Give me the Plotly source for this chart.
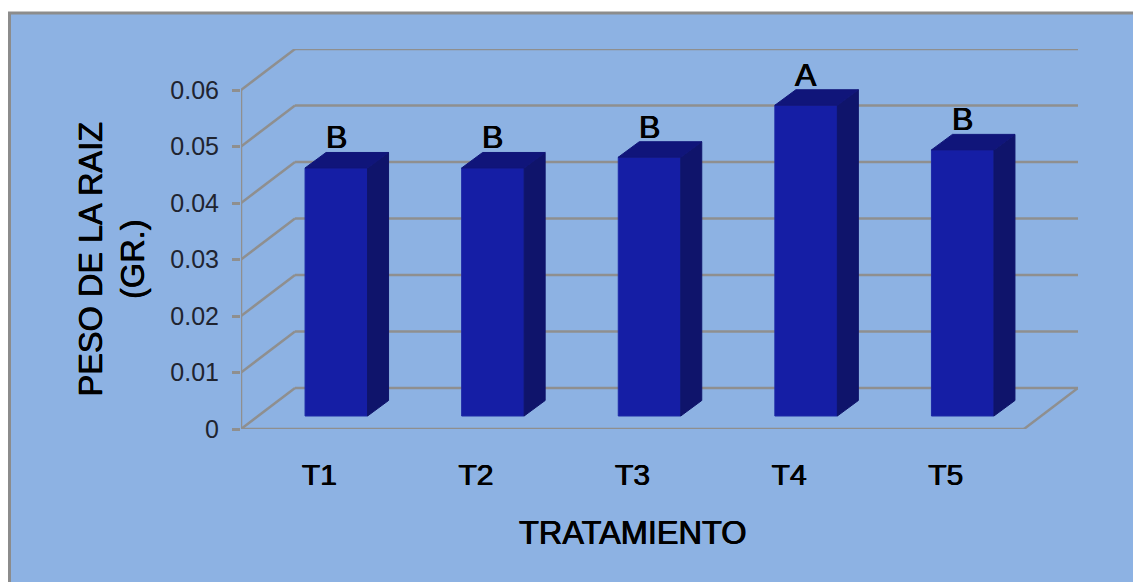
import plotly.graph_objects as go

categories = ["T1", "T2", "T3", "T4", "T5"]
values = [0.0439, 0.0439, 0.0458, 0.0550, 0.0471]
letters = ["B", "B", "B", "A", "B"]
y_ticks = [0, 0.01, 0.02, 0.03, 0.04, 0.05, 0.06]
y_tick_labels = ["0", "0.01", "0.02", "0.03", "0.04", "0.05", "0.06"]

W, H = 1133, 582
L, R, T, B = 241, 1078, 49, 429
PX_X = 156.6
PX_Y = 5650.0
BG = "#8DB2E3"
GRID = "#8F8F8F"
FRONT = "#151EA5"
SIDE = "#0F146B"
TOP = "#10157A"
FONT = "Liberation Sans"
HEAVY = "0.5px 0 0 #000000, -0.4px 0 0 #000000"

xmin = -0.5
xmax = xmin + (R - L) / PX_X
ymax = (B - T) / PX_Y
wall_dx, wall_dy = 54 / PX_X, 41 / PX_Y
bar_off_x, bar_off_y = 17 / PX_X, 13 / PX_Y
bar_dx, bar_dy = 21 / PX_X, 15.5 / PX_Y
bar_w = 62.5 / PX_X
floor_right = xmin + 5

idx = list(range(len(categories)))
fig = go.Figure()

# Front faces
fig.add_trace(go.Bar(
    x=[i + bar_off_x for i in idx], y=values, base=bar_off_y, width=bar_w,
    marker=dict(color=FRONT, line=dict(color="#1C28A6", width=1)),
))

# Side and top faces derived from the values
for i, v in zip(idx, values):
    x0 = i + bar_off_x - bar_w / 2
    x1 = i + bar_off_x + bar_w / 2
    y0 = bar_off_y
    y1 = bar_off_y + v
    fig.add_trace(go.Scatter(
        x=[x1, x1 + bar_dx, x1 + bar_dx, x1, x1],
        y=[y0, y0 + bar_dy, y1 + bar_dy, y1, y0],
        mode="lines", fill="toself", fillcolor=SIDE,
        line=dict(color=SIDE, width=1), hoverinfo="skip",
    ))
    fig.add_trace(go.Scatter(
        x=[x0, x0 + bar_dx, x1 + bar_dx, x1, x0],
        y=[y1, y1 + bar_dy, y1 + bar_dy, y1, y1],
        mode="lines", fill="toself", fillcolor=TOP,
        line=dict(color=TOP, width=1), hoverinfo="skip",
    ))

shapes = [
    # Chart-area panel
    dict(type="rect", xref="paper", yref="paper", layer="below",
         x0=(9.5 - L) / (R - L), x1=(W + 20 - L) / (R - L),
         y0=-(H + 20 - B) / (B - T), y1=1 + (T - 13) / (B - T),
         fillcolor=BG, line=dict(color="#8C8C8C", width=3)),
]
line = dict(color=GRID, width=2.5)
for t in y_ticks:
    # Side-wall diagonal and back-wall line for each tick
    shapes.append(dict(type="line", layer="below", xref="x", yref="y", x0=xmin, y0=t,
                       x1=xmin + wall_dx, y1=t + wall_dy, line=line))
    shapes.append(dict(type="line", layer="below", xref="x", yref="y", x0=xmin + wall_dx, y0=t + wall_dy,
                       x1=xmax, y1=t + wall_dy, line=line))
shapes.append(dict(type="line", layer="below", xref="x", yref="y", x0=xmin, y0=0,
                   x1=xmin, y1=max(y_ticks), line=line))
shapes.append(dict(type="line", layer="below", xref="x", yref="y", x0=xmin, y0=0,
                   x1=floor_right, y1=0, line=line))
shapes.append(dict(type="line", layer="below", xref="x", yref="y", x0=floor_right, y0=0,
                   x1=xmax, y1=wall_dy, line=line))

annotations = [
    dict(x=i + bar_off_x, y=bar_off_y + v + bar_dy, text=s, showarrow=False,
         xref="x", yref="y", yanchor="bottom", yshift=-5,
         font=dict(family=FONT, size=32, color="#000000", shadow=HEAVY))
    for i, v, s in zip(idx, values, letters)
]
annotations += [
    dict(text="TRATAMIENTO", showarrow=False, xref="paper", yref="paper",
         x=(632.5 - L) / (R - L), y=-(533 - B) / (B - T),
         font=dict(family=FONT, size=32.5, color="#000000", shadow=HEAVY),
         xanchor="center", yanchor="middle"),
    dict(text="PESO DE LA RAIZ<br>(GR.)", showarrow=False, xref="paper", yref="paper",
         x=(111.5 - L) / (R - L), y=1 - (259 - T) / (B - T), textangle=-90,
         font=dict(family=FONT, size=32.5, color="#000000", shadow=HEAVY),
         xanchor="center", yanchor="middle", align="center"),
]

fig.update_layout(
    width=W, height=H,
    margin=dict(l=L, r=W - R, t=T, b=H - B, pad=0),
    paper_bgcolor="#FFFFFF", plot_bgcolor="rgba(0,0,0,0)",
    showlegend=False, shapes=shapes, annotations=annotations,
    xaxis=dict(range=[xmin, xmax], tickmode="array", tickvals=idx, ticktext=categories,
               showgrid=False, zeroline=False, showline=False, ticks="", ticklabelstandoff=25,
               tickfont=dict(family=FONT, size=30, color="#000000", shadow=HEAVY)),
    yaxis=dict(range=[0, ymax], tickmode="array", tickvals=y_ticks, ticktext=y_tick_labels,
               showgrid=False, zeroline=False, showline=False, ticks="outside", ticklen=8,
               tickwidth=2.5, tickcolor=GRID, ticklabelstandoff=8,
               tickfont=dict(family=FONT, size=25, color="#1F2430")),
)

fig.write_html("out.html", config=dict(displayModeBar=False),
               post_script="document.body.style.margin='0';document.body.style.overflow='hidden';")
